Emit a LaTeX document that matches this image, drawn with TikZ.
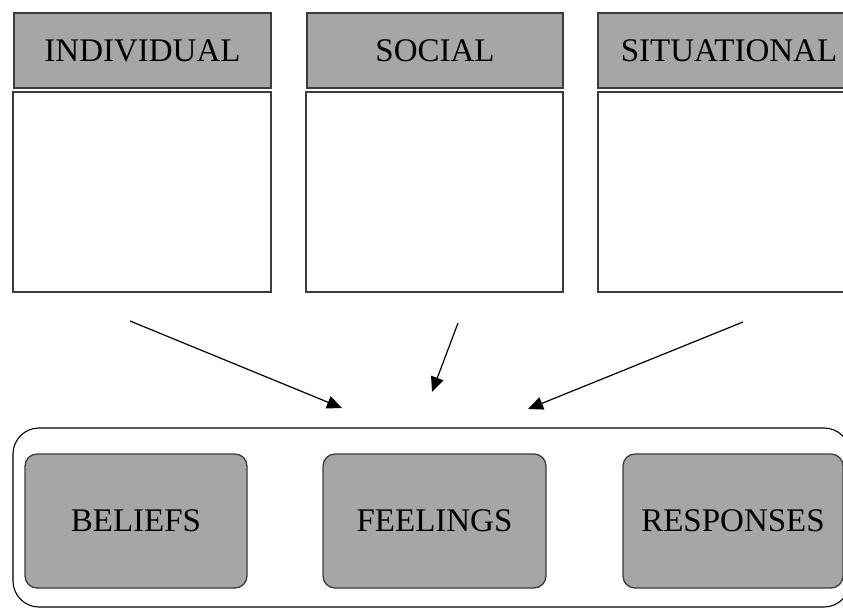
\documentclass[tikz,border=0pt]{standalone}
\usepackage{fontspec}
\setmainfont{Liberation Serif}
\usetikzlibrary{arrows.meta}
\definecolor{boxgray}{HTML}{A6A6A6}
\definecolor{edge}{HTML}{3C3C3C}
\tikzset{
  head/.style={draw=edge, line width=1.4pt, fill=boxgray, inner sep=0pt, outer sep=0pt,
    font=\fontsize{33}{39}\selectfont, minimum height=75pt},
  body/.style={draw=edge, line width=1.4pt, fill=white, inner sep=0pt, outer sep=0pt,
    minimum height=200pt},
  inbox/.style={draw=edge, line width=1.3pt, fill=boxgray, rounded corners=12pt, inner sep=0pt,
    outer sep=0pt, font=\fontsize{33}{39}\selectfont, minimum height=134pt},
  outerbox/.style={draw=black, line width=1.1pt, rounded corners=26pt, inner sep=0pt, outer sep=0pt},
  arr/.style={draw=black, line width=1.2pt, -{Triangle[length=15pt,width=13pt]}}
}
\begin{document}
\begin{tikzpicture}[x=1pt,y=-1pt]
\clip (0,0) rectangle (843,609);
\fill[white] (0,0) rectangle (843,609);
% headers
\node[head, minimum width=257pt] (hind) at (142.5,50.5) {INDIVIDUAL};
\node[head, minimum width=256pt] (hsoc) at (435,50.5) {SOCIAL};
\node[head, minimum width=262pt] (hsit) at (729,50.5) {SITUATIONAL};
% bodies
\node[body, minimum width=258pt] (bind) at (142,192) {};
\node[body, minimum width=257pt] (bsoc) at (434.5,192) {};
\node[body, minimum width=262pt] (bsit) at (729,192) {};
% outer rounded box
\node[outerbox, minimum width=837pt, minimum height=179pt] (outer) at (431.5,517.5) {};
% inner boxes
\node[inbox, minimum width=222pt] (bel) at (136,521) {BELIEFS};
\node[inbox, minimum width=223pt] (fee) at (434.5,521) {FEELINGS};
\node[inbox, minimum width=220pt] (res) at (733,521) {RESPONSES};
% arrows
\coordinate (a1s) at (130,321);
\coordinate (a1e) at (342,408);
\coordinate (a2s) at (458,323);
\coordinate (a2e) at (432,392);
\coordinate (a3s) at (743,322);
\coordinate (a3e) at (528,409);
\draw[arr] (a1s) -- (a1e);
\draw[arr] (a2s) -- (a2e);
\draw[arr] (a3s) -- (a3e);
\end{tikzpicture}
\end{document}
